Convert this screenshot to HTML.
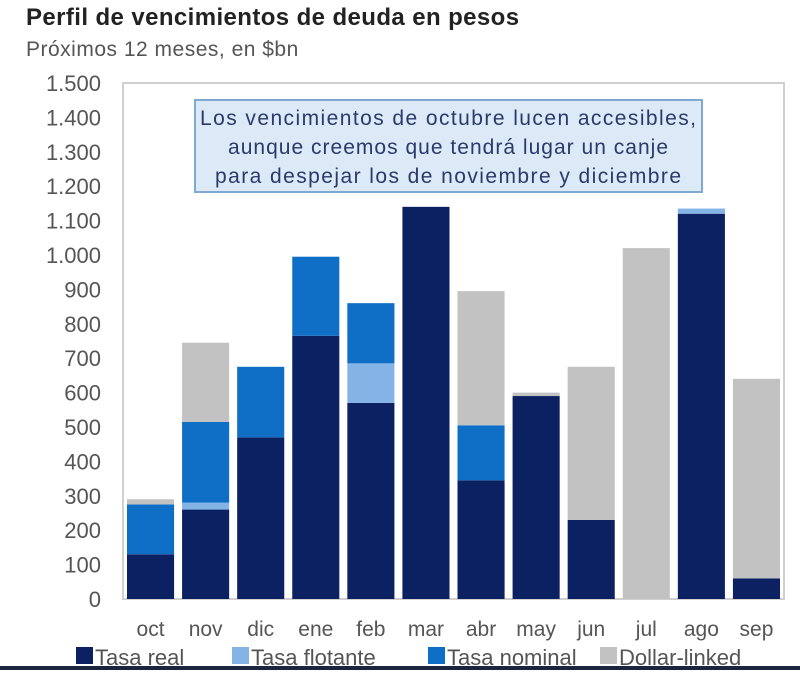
<!DOCTYPE html>
<html><head><meta charset="utf-8"><style>
body{margin:0;width:800px;height:674px;background:#fff;overflow:hidden;font-family:"Liberation Sans",sans-serif}
</style></head><body>
<svg width="800" height="674" xmlns="http://www.w3.org/2000/svg">
<text x="26" y="25" font-size="24" font-weight="bold" fill="#222" letter-spacing="0.4">Perfil de vencimientos de deuda en pesos</text>
<text x="26" y="56" font-size="21" fill="#555" letter-spacing="0.5">Próximos 12 meses, en $bn</text>
<rect x="123" y="83" width="661" height="516" fill="none" stroke="#d0d0d0" stroke-width="2"/>
<g id="yaxis"></g>
<g id="bars"></g>
<g id="xaxis"></g>
<g>
<rect x="195" y="100" width="507" height="92" fill="#dce9f7" stroke="#7fa9d2" stroke-width="2"/>
<text x="448" y="125" font-size="21" fill="#2b3a6a" text-anchor="middle" textLength="496">Los vencimientos de octubre lucen accesibles,</text>
<text x="448" y="154" font-size="21" fill="#2b3a6a" text-anchor="middle" textLength="440">aunque creemos que tendrá lugar un canje</text>
<text x="448" y="183" font-size="21" fill="#2b3a6a" text-anchor="middle" textLength="466">para despejar los de noviembre y diciembre</text>
</g>
<g id="legend"></g>
<rect x="0" y="666" width="800" height="4" fill="#1a2540"/>
</svg>
<script>
const categories=["oct","nov","dic","ene","feb","mar","abr","may","jun","jul","ago","sep"];
const tasaReal=[130,260,470,765,570,1140,345,590,230,0,1120,60];
const tasaFlotante=[0,20,0,0,115,0,0,0,0,0,15,0];
const tasaNominal=[145,235,205,230,175,0,160,0,0,0,0,0];
const dollarLinked=[15,230,0,0,0,0,390,10,445,1020,0,580];
const yTicks=[0,100,200,300,400,500,600,700,800,900,1000,1100,1200,1300,1400,1500];
const seriesNames=["Tasa real","Tasa flotante","Tasa nominal","Dollar-linked"];
const colors=["#0b2161","#84b4e6","#0f6fc6","#c2c2c2"];
const NS="http://www.w3.org/2000/svg";
const y0=599,y1=83,x0=123,x1=784;
const yScale=v=>y0-(v/1500)*(y0-y1);
const band=(x1-x0)/categories.length;
const xScale=i=>x0+i*band;
function mk(t,a,p){const e=document.createElementNS(NS,t);for(const k in a)e.setAttribute(k,a[k]);p.appendChild(e);return e;}
const ya=document.getElementById('yaxis');
yTicks.forEach(v=>{const t=mk('text',{x:101,y:yScale(v)+8,'font-size':22,fill:'#555','text-anchor':'end'},ya);


t.textContent=v>=1000?Math.floor(v/1000)+"."+String(v%1000).padStart(3,"0"):v;});
const bg=document.getElementById('bars');
const series=[tasaReal,tasaFlotante,tasaNominal,dollarLinked];
categories.forEach((c,i)=>{let acc=0;series.forEach((s,j)=>{const v=s[i];if(v>0){
const r=mk('rect',{x:xScale(i)+4,y:yScale(acc+v),width:band-8,height:yScale(acc)-yScale(acc+v),fill:colors[j]},bg);

}acc+=v;});
const t=mk('text',{x:xScale(i)+band/2,y:636,'font-size':21,fill:'#555','text-anchor':'middle'},document.getElementById('xaxis'));


t.textContent=c;});
const lg=document.getElementById('legend');
const lx=[76,232,428,600];
seriesNames.forEach((n,j)=>{const r=mk('rect',{x:lx[j],y:647,width:17,height:17,fill:colors[j]},lg);


const t=mk('text',{x:lx[j]+19,y:665,'font-size':22,fill:'#555'},lg);


t.textContent=n;});
</script>
</body></html>
